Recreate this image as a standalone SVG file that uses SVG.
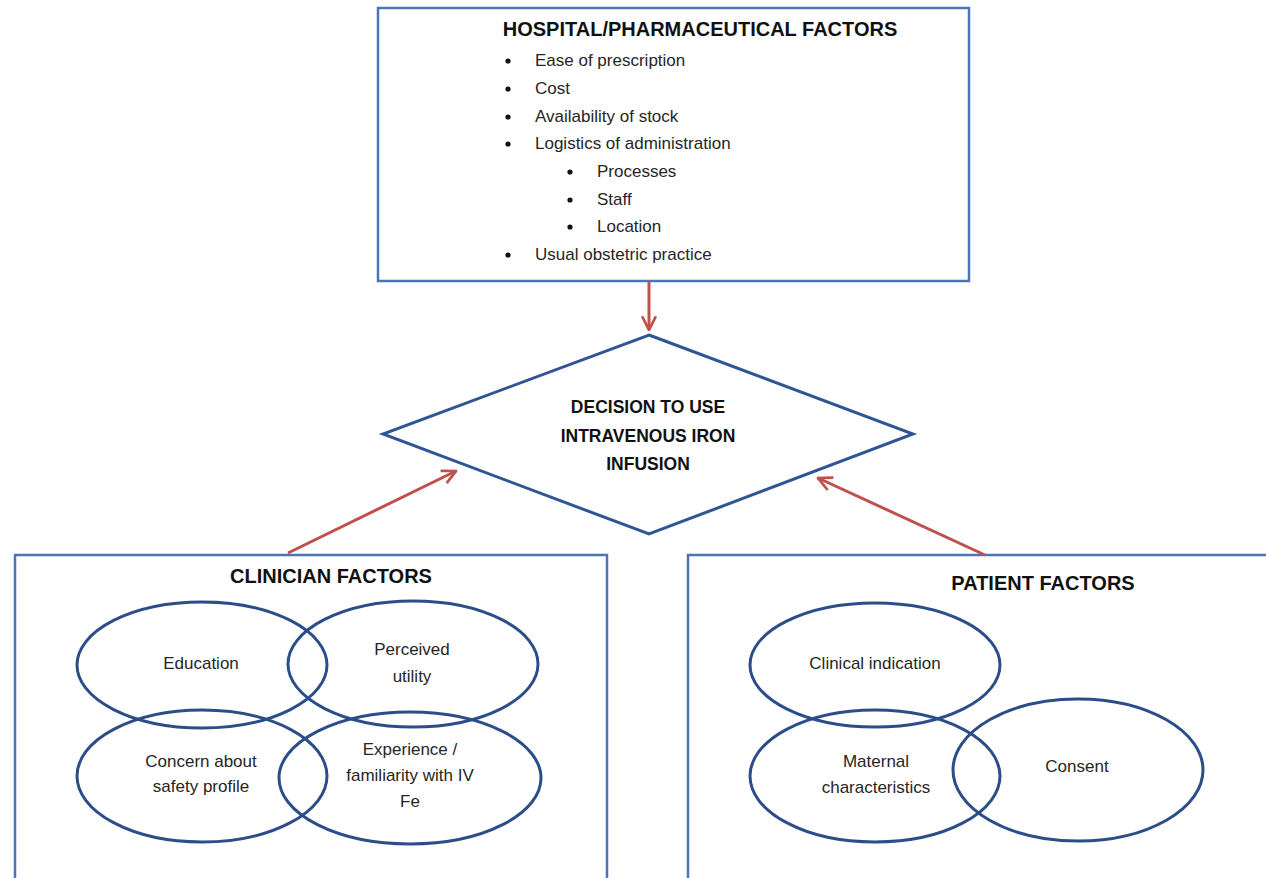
<svg xmlns="http://www.w3.org/2000/svg" width="1266" height="878" viewBox="0 0 1266 878">
  <style>
    .box{fill:#fff;stroke:#4a76b3;stroke-width:2.5}
    .ell{fill:none;stroke:#2b4e89;stroke-width:3}
    .dia{fill:#fff;stroke:#2f5593;stroke-width:3}
    .conn{stroke:#c0504d;stroke-width:3;fill:none}
    .t{font-family:"Liberation Sans",Arial,sans-serif;font-size:17px;fill:#262626}
    .c{text-anchor:middle}
    .h{font-family:"Liberation Sans",Arial,sans-serif;font-weight:bold;fill:#111;text-anchor:middle}
    .b{fill:#111}
  </style>
  <defs>
    <marker id="arr" viewBox="0 0 12 12" refX="11" refY="6" markerWidth="5.5" markerHeight="5.5" orient="auto" markerUnits="strokeWidth">
      <path d="M1,1 L11,6 L1,11" fill="none" stroke="#c0504d" stroke-width="2"/>
    </marker>
  </defs>
  <rect width="1266" height="878" fill="#fff"/>

  <g id="hospital">
    <rect class="box" x="378" y="8" width="591" height="273"/>
    <text class="h" x="700" y="36" font-size="20">HOSPITAL/PHARMACEUTICAL FACTORS</text>
    <circle class="b" cx="508" cy="61" r="2.6"/><text class="t" x="535" y="66">Ease of prescription</text>
    <circle class="b" cx="508" cy="89" r="2.6"/><text class="t" x="535" y="94">Cost</text>
    <circle class="b" cx="508" cy="117" r="2.6"/><text class="t" x="535" y="122">Availability of stock</text>
    <circle class="b" cx="508" cy="144" r="2.6"/><text class="t" x="535" y="149">Logistics of administration</text>
    <circle class="b" cx="570" cy="172" r="2.6"/><text class="t" x="597" y="177">Processes</text>
    <circle class="b" cx="570" cy="200" r="2.6"/><text class="t" x="597" y="205">Staff</text>
    <circle class="b" cx="570" cy="227" r="2.6"/><text class="t" x="597" y="232">Location</text>
    <circle class="b" cx="508" cy="255" r="2.6"/><text class="t" x="535" y="260">Usual obstetric practice</text>
  </g>

  <g id="decision">
    <polygon class="dia" points="649,335 913,434 649,534 383,434"/>
    <text class="h" x="648" y="413" font-size="17.5">DECISION TO USE</text>
    <text class="h" x="648" y="442" font-size="17.5">INTRAVENOUS IRON</text>
    <text class="h" x="648" y="470" font-size="17.5">INFUSION</text>
  </g>

  <g id="clinician">
    <rect class="box" x="15" y="555" width="592" height="340"/>
    <text class="h" x="331" y="583" font-size="20">CLINICIAN FACTORS</text>
    <ellipse class="ell" cx="202" cy="665" rx="125" ry="63"/>
    <ellipse class="ell" cx="413" cy="664" rx="125" ry="63"/>
    <ellipse class="ell" cx="202" cy="776" rx="125" ry="66"/>
    <ellipse class="ell" cx="410" cy="778" rx="131" ry="66"/>
    <text class="t c" x="201" y="669">Education</text>
    <text class="t c" x="412" y="655">Perceived</text>
    <text class="t c" x="412" y="682">utility</text>
    <text class="t c" x="201" y="767">Concern about</text>
    <text class="t c" x="201" y="792">safety profile</text>
    <text class="t c" x="410" y="755">Experience /</text>
    <text class="t c" x="410" y="781">familiarity with IV</text>
    <text class="t c" x="410" y="807">Fe</text>
  </g>

  <g id="patient">
    <rect class="box" x="688" y="555" width="620" height="340"/>
    <text class="h" x="1043" y="590" font-size="20">PATIENT FACTORS</text>
    <ellipse class="ell" cx="875" cy="665" rx="125" ry="62"/>
    <ellipse class="ell" cx="875" cy="776" rx="125" ry="66"/>
    <ellipse class="ell" cx="1078" cy="770" rx="125" ry="71"/>
    <text class="t c" x="875" y="669">Clinical indication</text>
    <text class="t c" x="876" y="767">Maternal</text>
    <text class="t c" x="876" y="793">characteristics</text>
    <text class="t c" x="1077" y="772">Consent</text>
  </g>

  <g id="connectors">
    <line class="conn" x1="649" y1="282" x2="649" y2="330" marker-end="url(#arr)"/>
    <line class="conn" x1="288" y1="553" x2="456" y2="471" marker-end="url(#arr)"/>
    <line class="conn" x1="985" y1="555" x2="818" y2="478" marker-end="url(#arr)"/>
  </g>
</svg>
